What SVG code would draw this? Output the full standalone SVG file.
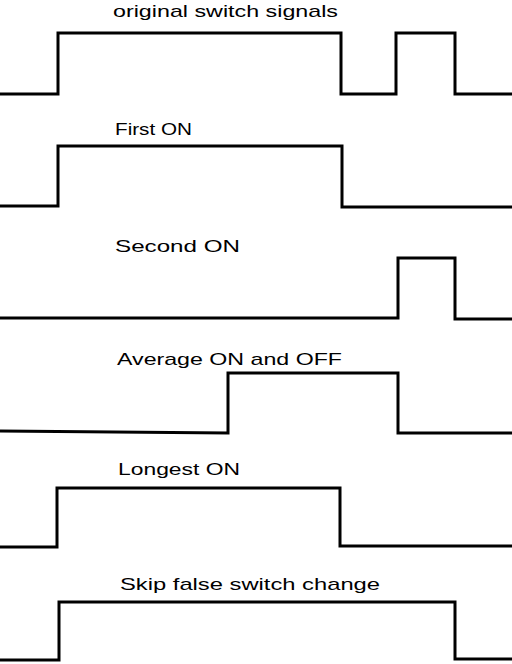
<svg xmlns="http://www.w3.org/2000/svg" width="512" height="664" viewBox="0 0 512 664">
<style>
.sig{fill:none;stroke:#000;stroke-width:3;stroke-linejoin:miter}
.lbl{font-family:"Liberation Sans",Arial,sans-serif;font-size:17px;fill:#000}
</style>
<rect width="512" height="664" fill="#fff"/>
<g id="labels">
<text class="lbl" x="113" y="17" textLength="225" lengthAdjust="spacingAndGlyphs">original switch signals</text>
<text class="lbl" x="115" y="135" textLength="77" lengthAdjust="spacingAndGlyphs">First ON</text>
<text class="lbl" x="115" y="252" textLength="125" lengthAdjust="spacingAndGlyphs">Second ON</text>
<text class="lbl" x="117" y="365" textLength="225" lengthAdjust="spacingAndGlyphs">Average ON and OFF</text>
<text class="lbl" x="118" y="475" textLength="122" lengthAdjust="spacingAndGlyphs">Longest ON</text>
<text class="lbl" x="120" y="590" textLength="260" lengthAdjust="spacingAndGlyphs">Skip false switch change</text>
</g>
<g id="signals">
<path id="sig-original" class="sig" d="M0 94 H58 V33 H341 V94 H396 V33 H455 V94 H512"/>
<path id="sig-first" class="sig" d="M0 206 H58 V146 H342 V207 H512"/>
<path id="sig-second" class="sig" d="M0 318 H398 V258 H455 V319 H512"/>
<path id="sig-average" class="sig" d="M0 431 L228 433 V373 H398 V433 H512"/>
<path id="sig-longest" class="sig" d="M0 547 H57 V488 H340 V546 H512"/>
<path id="sig-skip" class="sig" d="M0 660 H59 V602 H455 V659 H512"/>
</g>
</svg>
